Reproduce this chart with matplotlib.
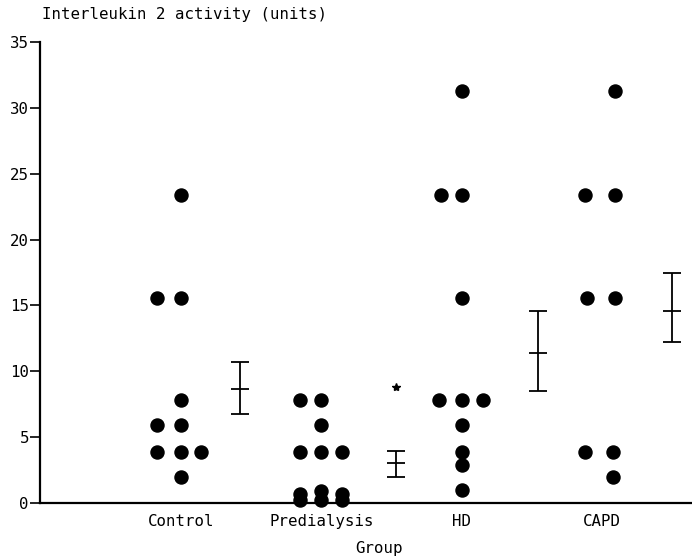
import matplotlib
matplotlib.use("Agg")
import matplotlib.pyplot as plt

# ---- data ----
categories = ["Control", "Predialysis", "HD", "CAPD"]

# individual values and their column (left/centre/right) within each group
control_vals = [23.4, 15.6, 15.6, 7.8, 5.9, 5.9, 3.9, 3.9, 3.9, 1.95]
control_cols = [0, -1.15, 0, 0, -1.15, 0, -1.15, 0, 0.95, 0]

predial_vals = [7.8, 7.8, 5.9, 3.9, 3.9, 3.9, 0.65, 0.2, 0.9, 0.2, 0.65, 0.2]
predial_cols = [-1, 0, 0, -1, 0, 1, -1, -1, 0, 0, 1, 1]

hd_vals = [31.25, 23.4, 23.4, 15.6, 7.8, 7.8, 7.8, 5.9, 3.9, 2.9, 0.98]
hd_cols = [0, -1, 0, 0, -1.1, 0, 1, 0, 0, 0, 0]

capd_vals = [31.25, 23.4, 23.4, 15.6, 15.6, 3.9, 3.9, 1.95]
capd_cols = [0.6, -0.8, 0.6, -0.7, 0.6, -0.8, 0.5, 0.5]

means = [8.65, 3.0, 11.36, 14.59]
lower = [6.75, 1.98, 8.47, 12.2]
upper = [10.73, 3.96, 14.56, 17.48]

star_value = 8.8  # significance marker above Predialysis

yticks = [0, 5, 10, 15, 20, 25, 30, 35]

# ---- layout / style ----
FONT = "DejaVu Sans Mono"
FS = 11.3
col_step = 0.15
bar_offsets = [0.42, 0.53, 0.54, 0.50]
centers = [1.0, 2.0, 3.0, 4.0]

fig = plt.figure(figsize=(6.92, 5.56), dpi=100)
ax = fig.add_axes([40/692, (556-503)/556, 652/692, (503-42)/556])

groups = [(control_vals, control_cols), (predial_vals, predial_cols),
          (hd_vals, hd_cols), (capd_vals, capd_cols)]
for c, (vals, cols) in zip(centers, groups):
    xs = [c + k * col_step for k in cols]
    ax.plot(xs, vals, 'o', color='black', markersize=9.4, linestyle='none',
            clip_on=False, zorder=3)

for c, off, m, lo, hi in zip(centers, bar_offsets, means, lower, upper):
    x = c + off
    ax.errorbar([x], [m], yerr=[[m - lo], [hi - m]], fmt='none', ecolor='black',
                elinewidth=1.3, capsize=6.5, capthick=1.3)
    ax.plot([x], [m], marker='_', color='black', markersize=13, mew=1.3)

ax.plot([centers[1] + bar_offsets[1]], [star_value], marker='*', color='black',
        markersize=6, linestyle='none')

ax.set_xlim(-0.005, 4.64)
ax.set_ylim(0, 35)
ax.set_yticks(yticks)
ax.set_yticklabels([str(t) for t in yticks], fontfamily=FONT, fontsize=FS)
ax.set_xticks(centers)
ax.set_xticklabels(categories, fontfamily=FONT, fontsize=FS)
ax.tick_params(axis='x', length=0, pad=8)
ax.tick_params(axis='y', length=7, width=1.2, pad=1, direction='out')
for s in ['top', 'right']:
    ax.spines[s].set_visible(False)
for s in ['left', 'bottom']:
    ax.spines[s].set_linewidth(1.6)

fig.text(42/692, 1 - 15/556, "Interleukin 2 activity (units)", fontfamily=FONT,
         fontsize=FS, ha='left', va='center')
fig.text(379/692, 1 - 548/556, "Group", fontfamily=FONT, fontsize=FS,
         ha='center', va='center')

fig.savefig("out.png", dpi=100)
